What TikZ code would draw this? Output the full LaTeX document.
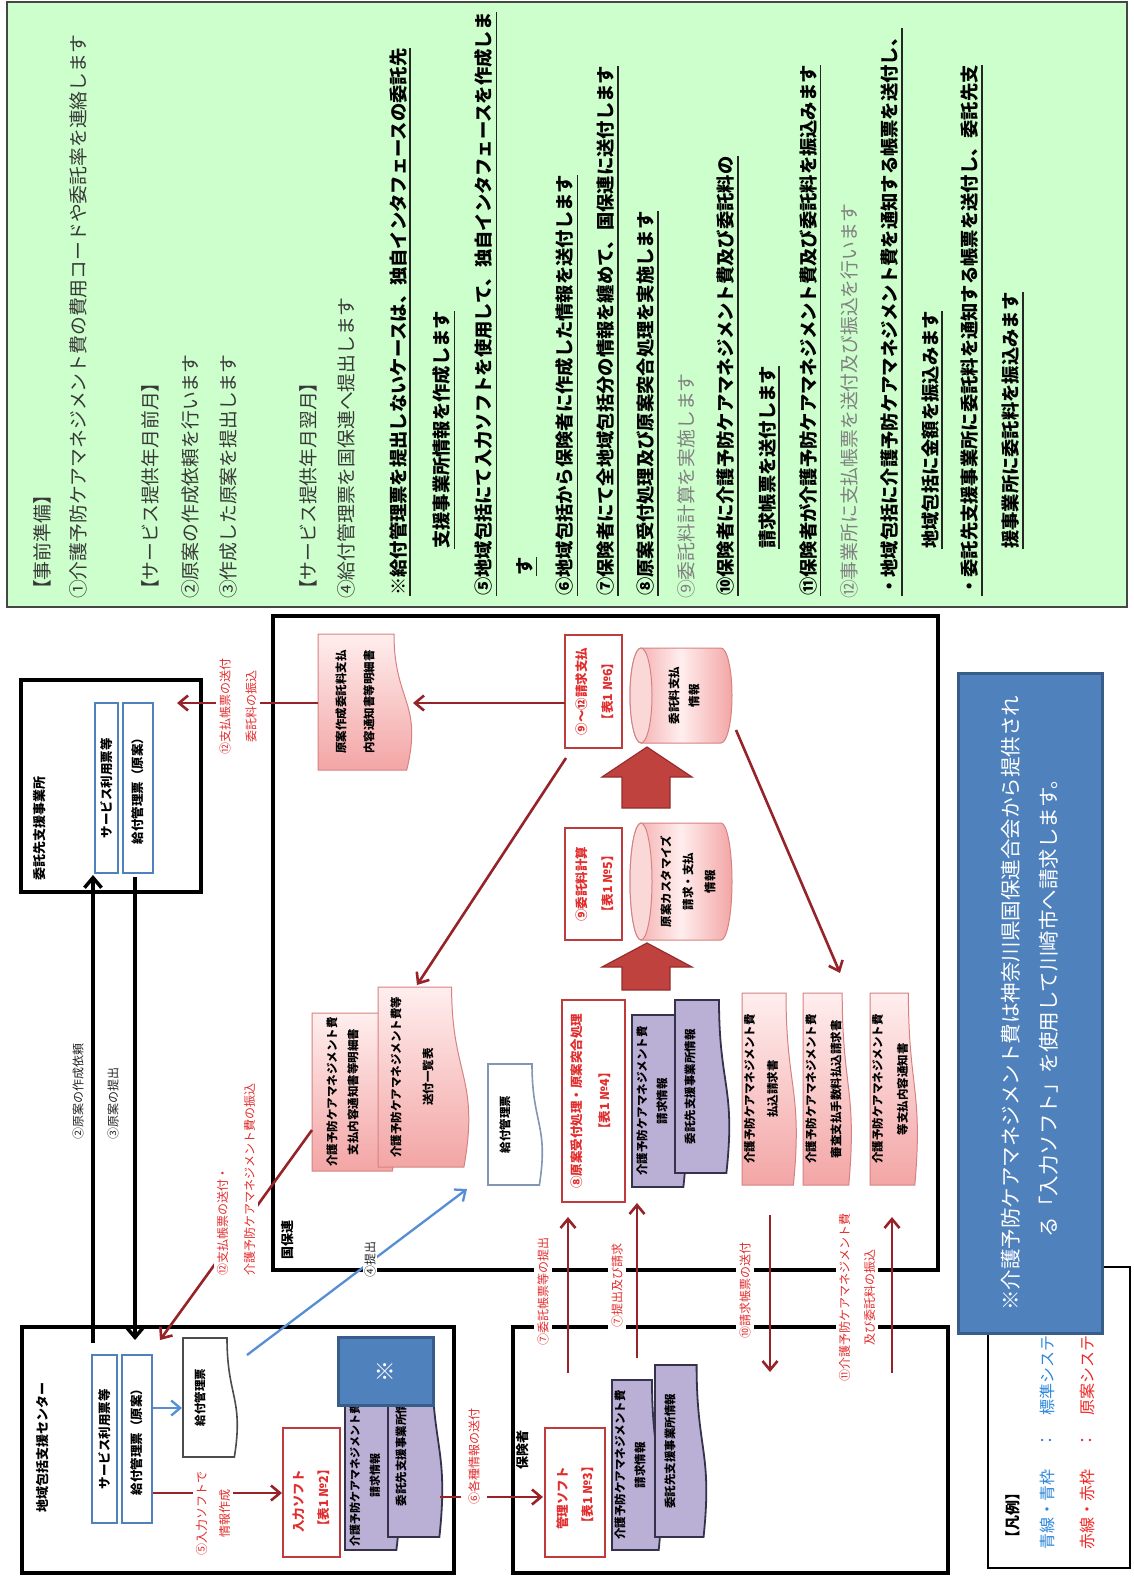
\documentclass[tikz,border=0pt]{standalone}
\usepackage{fontspec}
\newfontfamily\jp{Noto Sans CJK JP}
\usetikzlibrary{arrows.meta}
\definecolor{gbg}{RGB}{204,255,204}
\definecolor{gbd}{RGB}{70,70,70}
\definecolor{arrred}{RGB}{150,35,40}
\definecolor{lblred}{RGB}{225,45,45}
\definecolor{boxred}{RGB}{192,60,60}
\definecolor{pinkL}{RGB}{255,238,238}
\definecolor{pinkD}{RGB}{243,165,165}
\definecolor{pinkB}{RGB}{215,130,130}
\definecolor{purpF}{RGB}{186,175,212}
\definecolor{purpB}{RGB}{55,50,75}
\definecolor{barblue}{RGB}{79,129,189}
\definecolor{callF}{RGB}{79,129,189}
\definecolor{callB}{RGB}{56,93,138}
\definecolor{lineblue}{RGB}{85,142,213}
\definecolor{legblue}{RGB}{45,135,220}
\definecolor{legred}{RGB}{240,40,40}
\definecolor{blkF}{RGB}{192,66,62}
\definecolor{blkB}{RGB}{150,45,45}
\definecolor{docgray}{RGB}{130,150,180}
\newcommand\fz[2]{\fontsize{#1}{#2}\selectfont}
\newcommand\docshape[5]{%
  \pgfmathsetmacro\mydh{#5-#3}%
  \pgfmathsetmacro\myyA{-#3-0.80*\mydh}%
  \pgfmathsetmacro\myyB{-#3-1.107*\mydh}%
  \pgfmathsetmacro\myyC{-#3-0.934*\mydh}%
  \pgfmathsetmacro\myum{(#2+#4)/2}%
  \path[#1] (#2,-#3) -- (#4,-#3) -- (#4,\myyA) .. controls (\myum,\myyA) and (\myum,\myyB) .. (#2,\myyC) -- cycle;}
\newcommand\cylshape[5]{%
  \pgfmathsetmacro\mycu{(#1+#3)/2}%
  \pgfmathsetmacro\mycr{(#3-#1)/2}%
  \pgfmathsetmacro\mycyt{-#2-#5}%
  \pgfmathsetmacro\mycyb{-#4+#5}%
  \path[cylbody] (#1,\mycyt) -- (#1,\mycyb) arc[start angle=180,end angle=360,x radius=\mycr pt,y radius=#5 pt] -- (#3,\mycyt) arc[start angle=0,end angle=180,x radius=\mycr pt,y radius=#5 pt] -- cycle;
  \path[cyltop] (\mycu,\mycyt) ellipse[x radius=\mycr pt,y radius=#5 pt];}
\newcommand\gln[5]{\node[#4] (#1) at (#2,-#3) {#5};}
\newcommand\gul[4]{\node[gbold] (#1) at (#2,-#3) {#4};
  \draw[uline] ([yshift=-3pt]#1.south west) -- ([yshift=-3pt]#1.south east);}
\begin{document}
\begin{tikzpicture}[x=1pt,y=1pt,
  bigframe/.style={draw=black, line width=3.5pt},
  gframe/.style={draw=gbd, line width=2pt, fill=gbg},
  redbox/.style={draw=boxred, line width=2.8pt, fill=white},
  bluebar/.style={draw=barblue, line width=2.5pt, fill=white, font=\jp\bfseries\fz{12.5}{15}, inner sep=0pt},
  pinkdoc/.style={draw=pinkB, line width=1pt, top color=pinkL, bottom color=pinkD},
  purpdoc/.style={draw=purpB, line width=1.8pt, fill=purpF},
  whitedoc/.style={draw=#1, line width=1.6pt, fill=white},
  whitedoc/.default=black!70,
  cylbody/.style={draw=pinkB, line width=1pt, left color=pinkD, right color=pinkD, middle color=pinkL},
  cyltop/.style={draw=pinkB, line width=1pt, fill=pinkL!70!pinkD},
  blockarr/.style={draw=blkB, line width=1.2pt, fill=blkF},
  redarr/.style={draw=arrred, line width=2.6pt, -{Straight Barb[length=9pt,width=15pt]}},
  blackarr/.style={draw=black, line width=3.5pt, -{Straight Barb[length=10pt,width=17pt]}},
  bluearr/.style={draw=lineblue, line width=2.3pt, -{Straight Barb[length=9pt,width=15pt]}},
  lbl/.style={font=\jp\fz{12}{#1}, text=lblred, fill=white, align=center, inner xsep=2pt, inner ysep=3pt},
  lbl/.default=26,
  blbl/.style={font=\jp\fz{12}{15}, text=black!85, inner sep=1pt},
  dtxt/.style={font=\jp\bfseries\fz{11.5}{#1}, align=center, inner sep=0pt},
  dtxt/.default=21,
  rtxt/.style={font=\jp\bfseries\fz{12.5}{#1}, text=lblred, align=left, inner sep=0pt},
  rtxt/.default=25,
  ttl/.style={font=\jp\bfseries\fz{13}{15}, anchor=west, inner sep=0pt},
  gnorm/.style={font=\jp\fz{18.8}{20}, text=black!78, anchor=west, inner sep=0pt},
  glight/.style={gnorm, text=black!50},
  gbold/.style={font=\jp\bfseries\fz{18.3}{20}, text=black, anchor=west, inner sep=0pt},
  uline/.style={draw=black!85, line width=1.3pt}]
\useasboundingbox (0,0) rectangle (1133,-1576);
\fill[white] (0,0) rectangle (1133,-1576);
\begin{scope}[shift={(0,-1576)},rotate=90,transform shape]
% ---------- green explanation box ----------
\node[gframe, minimum width=605pt, minimum height=1120pt] (green) at (1271.5,-567) {};
\gln{g0}{977}{42}{gnorm}{【事前準備】}
\gln{g1}{977}{78}{gnorm}{①介護予防ケアマネジメント費の費用コードや委託率を連絡します}
\gln{g2}{977}{150}{gnorm}{【サービス提供年月前月】}
\gln{g3}{977}{190}{gnorm}{②原案の作成依頼を行います}
\gln{g4}{977}{228}{gnorm}{③作成した原案を提出します}
\gln{g5}{977}{308}{gnorm}{【サービス提供年月翌月】}
\gln{g6}{977}{346}{gnorm}{④給付管理票を国保連へ提出します}
\gul{g7}{980}{398}{※給付管理票を提出しないケースは、独自インタフェースの委託先}
\gul{g8}{1027}{442}{支援事業所情報を作成します}
\gul{g9}{980}{484}{⑤地域包括にて入力ソフトを使用して、独自インタフェースを作成しま}
\gul{g10}{1000}{525}{す}
\gul{g11}{980}{565}{⑥地域包括から保険者に作成した情報を送付します}
\gul{g12}{980}{606}{⑦保険者にて全地域包括分の情報を纏めて、国保連に送付します}
\gul{g13}{980}{646}{⑧原案受付処理及び原案突合処理を実施します}
\gln{g14}{977}{686}{glight}{⑨委託料計算を実施します}
\gul{g15}{980}{726}{⑩保険者に介護予防ケアマネジメント費及び委託料の}
\gul{g16}{1027}{767}{請求帳票を送付します}
\gul{g17}{980}{808}{⑪保険者が介護予防ケアマネジメント費及び委託料を振込みます}
\gln{g18}{977}{849}{glight}{⑫事業所に支払帳票を送付及び振込を行います}
\gul{g19}{980}{890}{・地域包括に介護予防ケアマネジメント費を通知する帳票を送付し、}
\gul{g20}{1027}{930}{地域包括に金額を振込みます}
\gul{g21}{980}{970}{・委託先支援事業所に委託料を通知する帳票を送付し、委託先支}
\gul{g22}{1027}{1011}{援事業所に委託料を振込みます}
% ---------- frames ----------
\node[bigframe, minimum width=212pt, minimum height=180pt] (itaku) at (790,-111) {};
\node[bigframe, minimum width=246pt, minimum height=432pt] (chiiki) at (126,-238) {};
\node[bigframe, minimum width=246pt, minimum height=435pt] (hoken) at (126,-730.5) {};
\node[bigframe, minimum width=654pt, minimum height=665pt] (kokuho) at (633,-605.5) {};
\node[ttl] (titaku) at (695,-40) {委託先支援事業所};
\node[ttl] (tchiiki) at (63,-43) {地域包括支援センター};
\node[ttl] (thoken) at (106,-523) {保険者};
\node[ttl] (tkokuho) at (316,-288) {国保連};
% ---------- bars ----------
\node[bluebar, minimum width=170pt, minimum height=23pt] (bar1a) at (788,-106.5) {サービス利用票等};
\node[bluebar, minimum width=170pt, minimum height=30pt] (bar1b) at (788,-138) {給付管理票（原案）};
\node[bluebar, minimum width=168pt, minimum height=25pt] (bar2a) at (137,-104.5) {サービス利用票等};
\node[bluebar, minimum width=168pt, minimum height=30pt] (bar2b) at (137,-137) {給付管理票（原案）};
% ---------- chiiki contents ----------
\docshape{whitedoc}{119}{183}{238}{238}
\node[dtxt] (kyufuA) at (178.5,-200) {給付管理票};
\node[redbox, minimum width=129pt, minimum height=57pt] (nyu) at (83.5,-311.5) {};
\node[rtxt, anchor=west] (nyut) at (43,-311.5) {入力ソフト\\【表1 №2】};
\docshape{purpdoc}{26}{345}{176}{400}
\node[dtxt=20, font=\jp\bfseries\fz{11}{20}] (pa1) at (101,-365) {介護予防ケアマネジメント費\\請求情報};
\docshape{purpdoc}{39}{388}{216}{443}
\node[dtxt] (pb1) at (127.5,-401) {委託先支援事業所情報};
\node[draw=callB, line width=3pt, fill=callF, minimum width=68pt, minimum height=95pt, text=white, font=\jp\fz{22}{24}] (kome) at (205,-385.5) {※};
% ---------- hoken contents ----------
\node[redbox, minimum width=129pt, minimum height=60pt] (kanri) at (83.5,-575) {};
\node[rtxt, anchor=west] (kanrit) at (46,-575) {管理ソフト\\【表1 №3】};
\docshape{purpdoc}{26}{612}{196}{662}
\node[dtxt=20] (pa2) at (111,-630) {介護予防ケアマネジメント費\\請求情報};
\docshape{purpdoc}{39}{655}{211}{707}
\node[dtxt] (pb2) at (125,-670) {委託先支援事業所情報};
% ---------- kokuho contents ----------
\docshape{pinkdoc}{806}{318}{942}{413}
\node[dtxt=28] (gensakut) at (874,-355) {原案作成委託料支払\\内容通知書等明細書};
\node[redbox, minimum width=113pt, minimum height=57pt] (seikyu) at (884.5,-593.5) {};
\node[rtxt=26, align=center] (seikyut) at (884.5,-595) {⑨～⑫請求支払\\【表1 №6】};
\cylshape{833}{630}{928}{732}{11}
\node[dtxt=20] (cyl1t) at (880.5,-684) {委託料支払\\情報};
\node[redbox, minimum width=112pt, minimum height=57pt] (keisan) at (692,-593.5) {};
\node[rtxt=26, align=center] (keisant) at (692,-595) {⑨委託料計算\\【表1 №5】};
\cylshape{636}{630}{753}{732}{11}
\node[dtxt=22] (cyl2t) at (694.5,-688) {原案カスタマイズ\\請求・支払\\情報};
\path[blockarr] (768,-622) -- (799,-622) -- (799,-602) -- (829,-647) -- (799,-692) -- (799,-670) -- (768,-670) -- cycle;
\path[blockarr] (586,-622) -- (609,-622) -- (609,-602) -- (633,-647) -- (609,-692) -- (609,-670) -- (586,-670) -- cycle;
\node[redbox, minimum width=202pt, minimum height=63pt] (uke) at (475,-593.5) {};
\node[rtxt=28, align=center] (uket) at (475,-591) {⑧原案受付処理・原案突合処理\\【表1 №4】};
\docshape{purpdoc}{389}{632}{561}{687}
\node[dtxt=20] (pa3) at (475,-652) {介護予防ケアマネジメント費\\請求情報};
\docshape{purpdoc}{403}{675}{576}{730}
\node[dtxt] (pb3) at (489.5,-690) {委託先支援事業所情報};
\docshape{pinkdoc}{391}{742}{583}{797}
\node[dtxt=23] (p1t) at (487,-761) {介護予防ケアマネジメント費\\払込請求書};
\docshape{pinkdoc}{391}{803}{583}{852}
\node[dtxt=25] (p2t) at (487,-823.5) {介護予防ケアマネジメント費\\審査支払手数料払込請求書};
\docshape{pinkdoc}{391}{870}{583}{918}
\node[dtxt=25] (p3t) at (487,-890) {介護予防ケアマネジメント費\\等支払内容通知書};
\docshape{whitedoc=docgray}{391}{488}{512}{543}
\node[dtxt] (kyufuK) at (451.5,-505) {給付管理票};
\docshape{pinkdoc}{405}{312}{563}{398}
\node[dtxt=21] (shiharait) at (484,-342.5) {介護予防ケアマネジメント費\\支払内容通知書等明細書};
\docshape{pinkdoc}{409}{378}{589}{470}
\node[dtxt=32] (sofut) at (499,-412) {介護予防ケアマネジメント費等\\送付一覧表};
% ---------- connectors ----------
\coordinate (a2s) at (233,-93); \coordinate (a2e) at (701,-93);
\draw[blackarr] (a2s) -- (a2e);
\coordinate (a3s) at (699,-135); \coordinate (a3e) at (236,-135);
\draw[blackarr] (a3s) -- (a3e);
\node[blbl, anchor=west] (l2) at (435,-78) {②原案の作成依頼};
\node[blbl, anchor=west] (l3) at (435,-113) {③原案の提出};
\coordinate (a12s) at (873,-565); \coordinate (a12m) at (873,-413);
\draw[redarr] (a12s) -- (a12m);
\coordinate (a12n) at (873,-318); \coordinate (a12e) at (873,-177);
\draw[redarr] (a12n) -- (a12e);
\node[lbl=26] (l12a) at (870,-238) {⑫支払帳票の送付\\委託料の振込};
\coordinate (a9s) at (818,-566); \coordinate (a9e) at (591,-417);
\draw[redarr] (a9s) -- (a9e);
\coordinate (a12bs) at (446,-312); \coordinate (a12be) at (236,-160);
\draw[redarr] (a12bs) -- (a12be);
\node[lbl=27, align=left, anchor=west] (l12b) at (298,-236) {⑫支払帳票の送付・\\介護予防ケアマネジメント費の振込};
\coordinate (a4s) at (221,-247); \coordinate (a4e) at (387,-467);
\draw[bluearr] (a4s) -- (a4e);
\node[blbl, fill=white] (l4) at (317,-370) {④提出};
\coordinate (abs) at (168,-153); \coordinate (abe) at (168,-182);
\draw[bluearr] (abs) -- (abe);
\coordinate (a5s) at (83,-153); \coordinate (a5e) at (83,-282);
\draw[redarr] (a5s) -- (a5e);
\node[lbl=23] (l5) at (63,-213) {⑤入力ソフトで\\情報作成};
\coordinate (a6s) at (79,-440); \coordinate (a6e) at (79,-543);
\draw[redarr] (a6s) -- (a6e);
\node[lbl, anchor=west, inner ysep=7pt] (l6) at (69,-474) {⑥各種情報の送付};
\node[lbl] (l7a) at (285,-543) {⑦委託帳票等の提出};
\node[lbl] (l7b) at (291,-617) {⑦提出及び請求};
\node[lbl] (l10) at (286,-745) {⑩請求帳票の送付};
\node[lbl=25] (l11) at (279,-857) {⑪介護予防ケアマネジメント費\\及び委託料の振込};
\coordinate (a7as) at (203,-568); \coordinate (a7ae) at (359,-568);
\draw[redarr] (a7as) -- (a7ae);
\coordinate (a7bs) at (218,-637); \coordinate (a7be) at (373,-637);
\draw[redarr] (a7bs) -- (a7be);
\coordinate (a10s) at (361,-770); \coordinate (a10e) at (204,-770);
\draw[redarr] (a10s) -- (a10e);
\coordinate (a11s) at (203,-892); \coordinate (a11e) at (359,-892);
\draw[redarr] (a11s) -- (a11e);
\coordinate (acs) at (846,-736); \coordinate (ace) at (603,-840);
\draw[redarr] (acs) -- (ace);
% ---------- legend and callout ----------
\node[draw=black, line width=1.5pt, fill=white, minimum width=301pt, minimum height=142pt] (legend) at (158.5,-1059) {};
\node[font=\jp\bfseries\fz{15}{17}, anchor=west, inner sep=0pt] (leg0) at (30,-1013) {【凡例】};
\node[font=\jp\fz{16}{18}, text=legblue, anchor=west, inner sep=0pt] (leg1a) at (26,-1047) {青線・青枠};
\node[font=\jp\fz{16}{18}, text=legblue, inner sep=0pt] (leg1b) at (136,-1047) {：};
\node[font=\jp\fz{16}{18}, text=legblue, anchor=west, inner sep=0pt] (leg1c) at (160,-1047) {標準システム};
\node[font=\jp\fz{16}{18}, text=legred, anchor=west, inner sep=0pt] (leg2a) at (26,-1087) {赤線・赤枠};
\node[font=\jp\fz{16}{18}, text=legred, inner sep=0pt] (leg2b) at (136,-1087) {：};
\node[font=\jp\fz{16}{18}, text=legred, anchor=west, inner sep=0pt] (leg2c) at (160,-1087) {原案システム};
\node[draw=callB, line width=3pt, fill=callF, minimum width=660pt, minimum height=144pt, text=white, font=\jp\fz{20.5}{38}, align=center] (callout) at (573,-1030) {※介護予防ケアマネジメント費は神奈川県国保連合会から提供され\\る「入力ソフト」を使用して川崎市へ請求します。};
\end{scope}
\end{tikzpicture}
\end{document}
